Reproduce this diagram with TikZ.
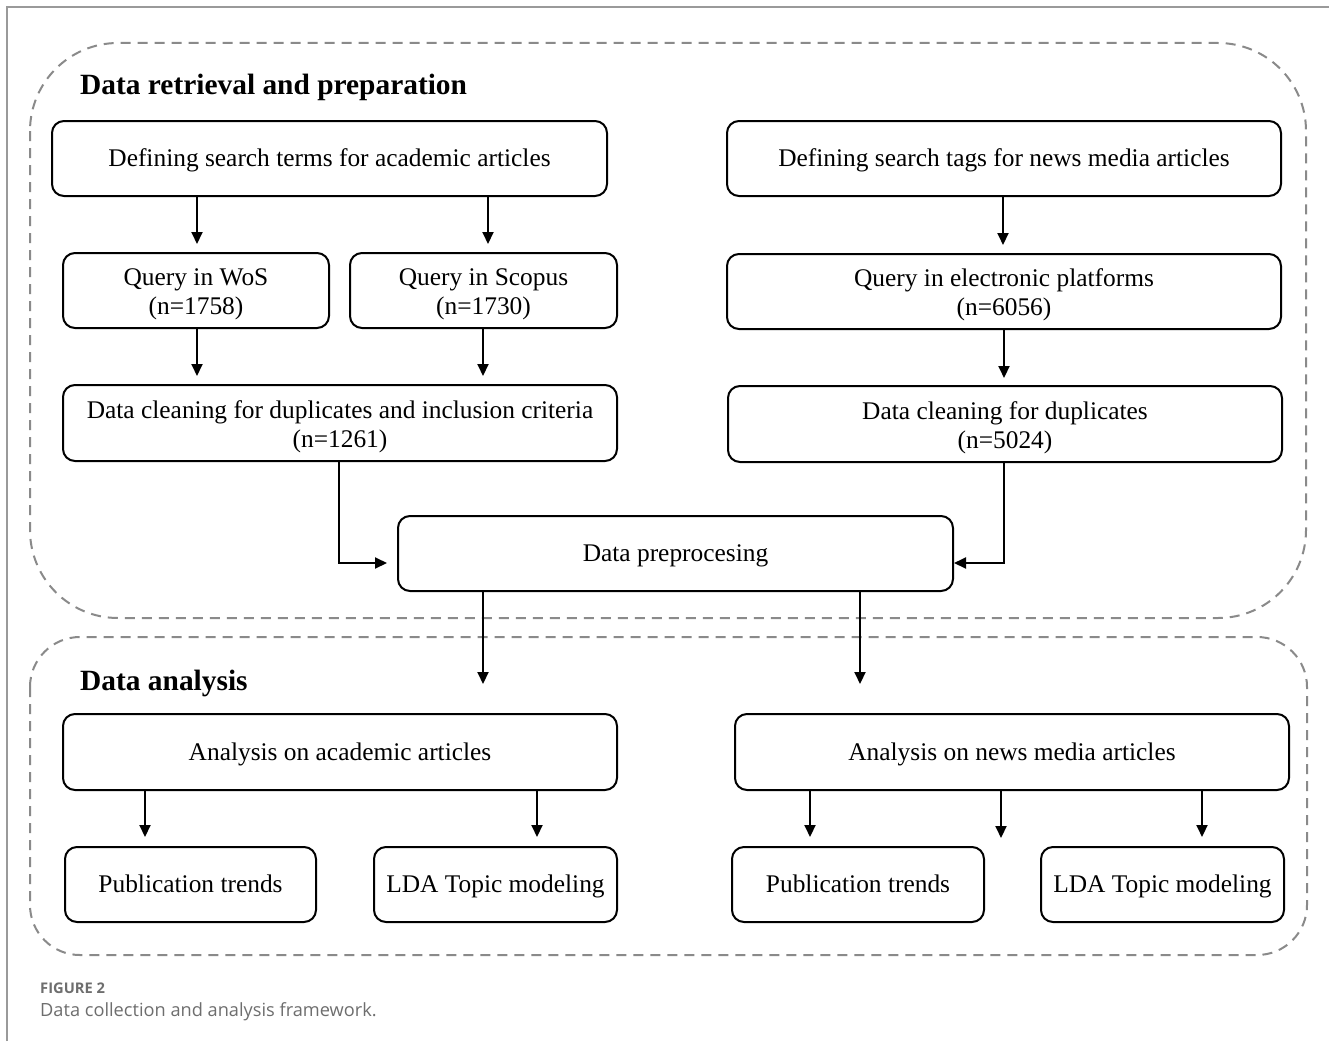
\documentclass[tikz,border=0pt]{standalone}
\usepackage{fontspec}
\setmainfont{Liberation Serif}
\newfontfamily\capfont{Open Sans}
\usetikzlibrary{arrows.meta}
\definecolor{dashgray}{HTML}{8A8A8A}
\definecolor{framegray}{HTML}{9A9A9A}
\definecolor{capgray}{HTML}{6E6E6E}
\tikzset{
  box/.style={draw=black, line width=2pt, rounded corners=12pt, inner sep=0pt,
    align=center, font=\fontsize{25.4}{29}\selectfont, text=black},
  one/.style={text height=21pt, text depth=5pt},
  two/.style={text height=53pt, text depth=5pt},
  arr/.style={line width=2pt, -{Triangle[length=12pt,width=11pt]}},
  dashbox/.style={draw=dashgray, line width=2pt, dash pattern=on 10pt off 7pt},
  title/.style={font=\fontsize{29.4}{33}\selectfont\bfseries, anchor=base west, inner sep=0pt},
}
\begin{document}
\begin{tikzpicture}[x=1pt,y=-1pt]
\useasboundingbox (0,0) rectangle (1329,1041);
\fill[white] (0,0) rectangle (1329,1041);
% page frame
\draw[framegray, line width=2pt] (7,1041) -- (7,7) -- (1329,7);
% containers
\draw[dashbox, rounded corners=88pt] (30,43) rectangle (1306,618);
\draw[dashbox, rounded corners=50pt] (30,637) rectangle (1307,955);
\node[title] (t1) at (80,94) {Data retrieval and preparation};
\node[title] (t2) at (80,690) {Data analysis};
% boxes
\node[box, one, minimum width=555pt, minimum height=75pt] (b1) at (329.5,158.5) {Defining search terms for academic articles};
\node[box, one, minimum width=554pt, minimum height=75pt] (b2) at (1004,158.5) {Defining search tags for news media articles};
\node[box, two, minimum width=266pt, minimum height=75pt] (b3) at (196,290.5) {Query in WoS\\(n=1758)};
\node[box, two, minimum width=267pt, minimum height=75pt] (b4) at (483.5,290.5) {Query in Scopus\\(n=1730)};
\node[box, two, minimum width=554pt, minimum height=75pt] (b5) at (1004,291.5) {Query in electronic platforms\\(n=6056)};
\node[box, two, minimum width=554pt, minimum height=76pt] (b6) at (340,423) {Data cleaning for duplicates and inclusion criteria\\(n=1261)};
\node[box, two, minimum width=554pt, minimum height=76pt] (b7) at (1005,424) {Data cleaning for duplicates\\(n=5024)};
\node[box, one, minimum width=555pt, minimum height=75pt] (b8) at (675.5,553.5) {Data preprocesing};
\node[box, one, minimum width=554pt, minimum height=76pt] (b9) at (340,752) {Analysis on academic articles};
\node[box, one, minimum width=554pt, minimum height=76pt] (b10) at (1012,752) {Analysis on news media articles};
\node[box, one, minimum width=251pt, minimum height=75pt] (b11) at (190.5,884.5) {Publication trends};
\node[box, one, minimum width=243pt, minimum height=75pt] (b12) at (495.5,884.5) {LDA Topic modeling};
\node[box, one, minimum width=252pt, minimum height=75pt] (b13) at (858,884.5) {Publication trends};
\node[box, one, minimum width=243pt, minimum height=75pt] (b14) at (1162.5,884.5) {LDA Topic modeling};
% free arrow ends
\coordinate (e1) at (483,684);
\coordinate (e2) at (860,684);
\coordinate (e3) at (1001,838);
% connectors
\draw[arr, shorten >=8pt] (197,0 |- b1.south) -- (197,0 |- b3.north);
\draw[arr, shorten >=8pt] (488,0 |- b1.south) -- (488,0 |- b4.north);
\draw[arr, shorten >=8pt] (1003,0 |- b2.south) -- (1003,0 |- b5.north);
\draw[arr, shorten >=8pt] (197,0 |- b3.south) -- (197,0 |- b6.north);
\draw[arr, shorten >=8pt] (483,0 |- b4.south) -- (483,0 |- b6.north);
\draw[arr, shorten >=7pt] (1004,0 |- b5.south) -- (1004,0 |- b7.north);
\draw[arr, shorten >=10pt] (339,0 |- b6.south) |- (0,563 -| b8.west);
\draw[arr] (1004,0 |- b7.south) |- (0,563 -| b8.east);
\draw[arr] (483,0 |- b8.south) -- (e1);
\draw[arr] (860,0 |- b8.south) -- (e2);
\draw[arr, shorten >=9pt] (145,0 |- b9.south) -- (145,0 |- b11.north);
\draw[arr, shorten >=9pt] (537,0 |- b9.south) -- (537,0 |- b12.north);
\draw[arr, shorten >=9pt] (810,0 |- b10.south) -- (810,0 |- b13.north);
\draw[arr] (1001,0 |- b10.south) -- (e3);
\draw[arr, shorten >=9pt] (1202,0 |- b10.south) -- (1202,0 |- b14.north);
% caption
\node[font=\capfont\fontsize{14.7}{16}\selectfont\bfseries, text=capgray, anchor=base west, inner sep=0pt] (c1) at (40,993) {FIGURE 2};
\node[font=\capfont\fontsize{18.2}{20}\selectfont, text=capgray, anchor=base west, inner sep=0pt] (c2) at (40,1016) {Data collection and analysis framework.};
\end{tikzpicture}
\end{document}
